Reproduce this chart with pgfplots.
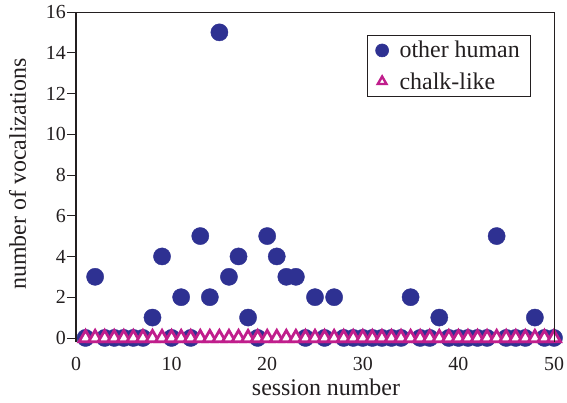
\documentclass[border=0pt]{standalone}
\usepackage{pgfplots}
\pgfplotsset{compat=1.18}
\usepackage{fontspec}
\setmainfont{Liberation Serif}
\definecolor{dotblue}{RGB}{46,49,146}
\definecolor{chalk}{RGB}{192,30,140}
\definecolor{txt}{RGB}{35,31,32}
\pgfplotstableread{
s v
1 0
2 3
3 0
4 0
5 0
6 0
7 0
8 1
9 4
10 0
11 2
12 0
13 5
14 2
15 15
16 3
17 4
18 1
19 0
20 5
21 4
22 3
23 3
24 0
25 2
26 0
27 2
28 0
29 0
30 0
31 0
32 0
33 0
34 0
35 2
36 0
37 0
38 1
39 0
40 0
41 0
42 0
43 0
44 5
45 0
46 0
47 0
48 1
49 0
50 0
}\humantab
\pgfplotstableread{
s v
1 0
2 0
3 0
4 0
5 0
6 0
7 0
8 0
9 0
10 0
11 0
12 0
13 0
14 0
15 0
16 0
17 0
18 0
19 0
20 0
21 0
22 0
23 0
24 0
25 0
26 0
27 0
28 0
29 0
30 0
31 0
32 0
33 0
34 0
35 0
36 0
37 0
38 0
39 0
40 0
41 0
42 0
43 0
44 0
45 0
46 0
47 0
48 0
49 0
50 0
}\chalktab
\begin{document}
\begin{tikzpicture}
\begin{axis}[name=ax, scale only axis, width=478bp, height=330bp,
  xmin=0, xmax=50, ymin=-0.2, ymax=16,
  xtick={0,10,...,50}, ytick={0,2,...,16},
  axis line style={draw=none},
  tick pos=left, tick align=outside,
  major tick length=9bp,
  ytick style={draw=txt, line width=0.8bp},
  xtick style={draw=none},
  tick label style={font=\fontsize{20}{24}\selectfont, text=txt},
  /pgf/number format/assume math mode=true,
  yticklabel style={inner sep=0pt, xshift=-1bp},
  xticklabel style={inner sep=0pt, yshift=-6bp},
  xlabel={session number}, ylabel={number of vocalizations},
  every axis x label/.style={at={(rel axis cs:0.5,0)}, anchor=base, yshift=-53bp, xshift=11bp,
    font=\fontsize{24}{28}\selectfont, text=txt},
  every axis y label/.style={at={(rel axis cs:0,0.5)}, anchor=base, rotate=90, yshift=50bp, xshift=3bp,
    font=\fontsize{24}{28}\selectfont, text=txt},
  legend style={at={(rel axis cs:0.95,0.93)}, anchor=north east, draw=txt, line width=0.6bp,
    font=\fontsize{24}{28}\selectfont, text=txt, row sep=9bp, column sep=9bp,
    inner xsep=8bp, inner ysep=4bp},
  legend cell align=left,
  clip=false,
]
\addlegendimage{only marks, mark=*, mark size=6.5bp, color=dotblue}
\addlegendimage{only marks, mark=triangle, mark size=5bp, color=chalk, mark options={line width=2.4bp}}
\addplot[forget plot, only marks, mark=*, mark size=8.6bp, color=dotblue] table[x=s,y=v] {\humantab};
\addplot[forget plot, only marks, mark=triangle*, mark size=7.5bp,
  every mark/.append style={draw=chalk, fill=white, line width=2.8bp}] table[x=s,y=v] {\chalktab};
\legend{other human, chalk-like}
\end{axis}
\draw[txt, line width=1.8bp] (ax.south west) -- (ax.north west);
\draw[txt, line width=0.8bp] (ax.north west) -- (ax.north east) -- (ax.south east);
\pgfresetboundingbox
\path (ax.south west) ++(-76bp,-61bp) rectangle ++(567bp,403bp);
\end{tikzpicture}
\end{document}
